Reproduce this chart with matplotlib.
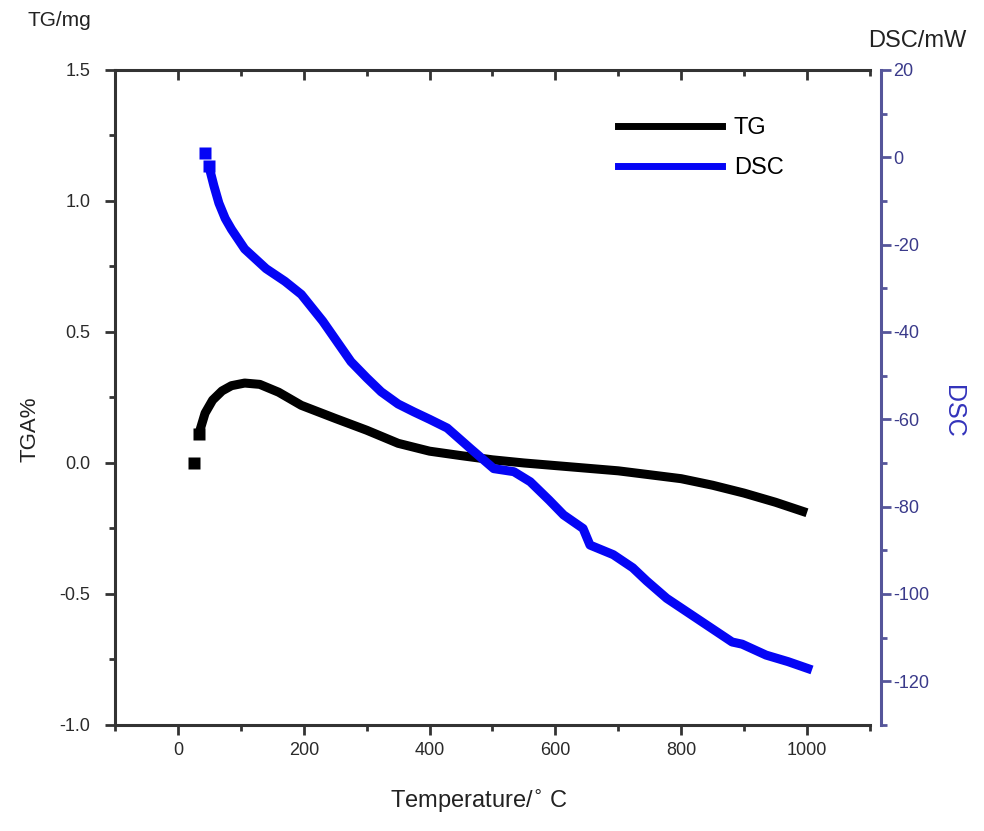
import matplotlib
matplotlib.use("Agg")
import matplotlib.pyplot as plt
from matplotlib.lines import Line2D
from matplotlib.ticker import MultipleLocator

plt.rcParams["font.family"] = ["Liberation Sans", "DejaVu Sans"]
plt.rcParams["axes.unicode_minus"] = False

# TG curve (left axis)
tg_temp = [25, 33, 43, 55, 70, 85, 106, 130, 160, 196, 250, 300, 350, 400,
           450, 500, 550, 600, 650, 700, 750, 800, 850, 900, 950, 1000]
tg_val = [0.0, 0.11, 0.19, 0.24, 0.275, 0.295, 0.305, 0.30, 0.27, 0.22, 0.17,
          0.125, 0.075, 0.045, 0.028, 0.012, 0.0, -0.01, -0.02, -0.03, -0.045,
          -0.06, -0.085, -0.115, -0.15, -0.19]

# DSC curve (right axis)
dsc_temp = [43, 49, 57, 65, 75, 85, 106, 140, 170, 196, 230, 275, 300, 323,
            350, 375, 400, 428, 465, 502, 534, 560, 590, 613, 644, 655, 692,
            723, 745, 777, 829, 881, 897, 935, 970, 1008]
dsc_val = [1, -2, -6.5, -10.5, -14, -16.5, -21, -25.5, -28.4, -31.4, -37.5,
           -46.8, -50.5, -53.7, -56.5, -58.3, -60, -62, -66.7, -71.3, -72,
           -74.3, -78.5, -81.9, -85, -88.8, -91, -94, -97, -101, -106, -111,
           -111.5, -114, -115.5, -117.4]

x_ticks = [0, 200, 400, 600, 800, 1000]
tg_ticks = [-1.0, -0.5, 0.0, 0.5, 1.0, 1.5]
dsc_ticks = [-120, -100, -80, -60, -40, -20, 0, 20]

spine_col = "#333333"
dsc_axis_col = "#55559a"
dsc_text_col = "#3a3a8a"
blue = "#0505f5"

fig = plt.figure(figsize=(9.84, 8.31), dpi=100)
ax = fig.add_axes([0.117, 0.1276, 0.767, 0.7882])
ax2 = ax.twinx()

# TG: first points as separate squares, then a thick line
ax.plot(tg_temp[:2], tg_val[:2], "s", color="black", ms=8, mec="none")
ax.plot(tg_temp[1:], tg_val[1:], "-", color="black", lw=6.5,
        solid_capstyle="butt", solid_joinstyle="round")
ax2.plot(dsc_temp[:2], dsc_val[:2], "s", color=blue, ms=8, mec="none")
ax2.plot(dsc_temp[1:], dsc_val[1:], "-", color=blue, lw=6.5,
         solid_capstyle="butt", solid_joinstyle="round")

ax.set_xlim(-100, 1100)
ax.set_ylim(-1.0, 1.5)
ax2.set_ylim(-130, 20)

ax.set_xticks(x_ticks)
ax.xaxis.set_minor_locator(MultipleLocator(100))
ax.set_yticks(tg_ticks)
ax.set_yticklabels([f"{v:.1f}" for v in tg_ticks])
ax.yaxis.set_minor_locator(MultipleLocator(0.25))
ax2.set_yticks(dsc_ticks)
ax2.yaxis.set_minor_locator(MultipleLocator(10))

for s in ["left", "bottom", "top"]:
    ax.spines[s].set_color(spine_col)
    ax.spines[s].set_linewidth(2.2)
ax.spines["right"].set_visible(False)
for s in ["left", "bottom", "top"]:
    ax2.spines[s].set_visible(False)
ax2.spines["right"].set_position(("outward", 8))
ax2.spines["right"].set_color(dsc_axis_col)
ax2.spines["right"].set_linewidth(2.2)

ax.tick_params(which="major", direction="out", length=7, width=2,
               color=spine_col, labelsize=13, labelcolor="#2a2a2a")
ax.tick_params(which="minor", direction="out", length=4, width=2,
               color=spine_col)
ax.tick_params(axis="x", pad=5)
ax.tick_params(axis="y", pad=11)
ax2.tick_params(which="major", direction="out", length=7, width=2,
                color=dsc_axis_col, labelsize=13, labelcolor=dsc_text_col,
                pad=2)
ax2.tick_params(which="minor", direction="out", length=4, width=2,
                color=dsc_axis_col)

# inward ticks on the top edge
top = ax.secondary_xaxis("top")
top.set_xticks(x_ticks)
top.xaxis.set_minor_locator(MultipleLocator(100))
top.tick_params(which="major", direction="in", length=7, width=2,
                color=spine_col, labeltop=False)
top.tick_params(which="minor", direction="in", length=4, width=2,
                color=spine_col)
top.spines["top"].set_visible(False)

fig.text(0.487, 0.036, "Temperature/$^{\\circ}$ C", ha="center",
         va="center", fontsize=17, color="#222222")
fig.text(0.030, 0.483, "TGA%", rotation=90, ha="center", va="center",
         fontsize=16, color="#222222")
fig.text(0.968, 0.505, "DSC", rotation=270, ha="center", va="center",
         fontsize=18, color="#3333bb")
fig.text(0.028, 0.975, "TG/mg", ha="left", va="center", fontsize=15,
         color="#222222")
fig.text(0.882, 0.951, "DSC/mW", ha="left", va="center", fontsize=17,
         color="#222222")

handles = [Line2D([], [], color="black", lw=5),
           Line2D([], [], color=blue, lw=5)]
ax.legend(handles, ["TG", "DSC"], loc="upper left",
          bbox_to_anchor=(0.628, 0.859), bbox_transform=fig.transFigure,
          frameon=False, fontsize=17, handlelength=4.4, handletextpad=0.5,
          labelspacing=0.75, borderpad=0, borderaxespad=0)

fig.savefig("out.png", dpi=100)
